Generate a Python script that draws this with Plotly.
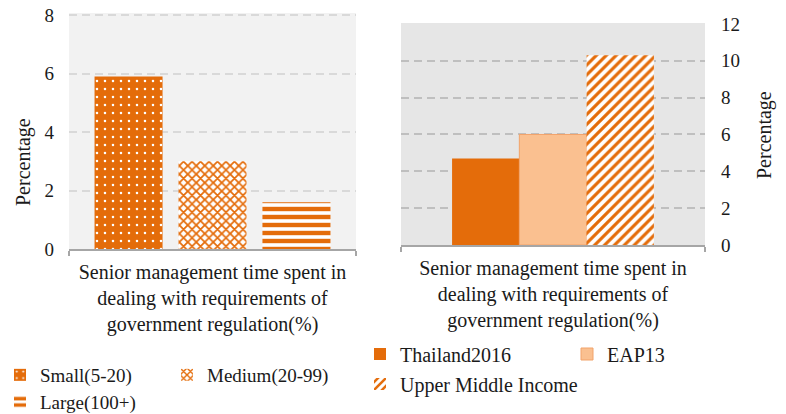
import plotly.graph_objects as go

# ---- data ----
category = ["Senior management time spent in<br>dealing with requirements of<br>government regulation(%)"]

size_names = ["Small(5-20)", "Medium(20-99)", "Large(100+)"]
size_values = [5.9, 3.0, 1.6]

cmp_names = ["Thailand2016", "EAP13", "Upper Middle Income"]
cmp_values = [4.7, 6.0, 10.3]

left_ticks = [0, 2, 4, 6, 8]
right_ticks = [0, 2, 4, 6, 8, 10, 12]

# ---- style ----
W, H = 786, 414
ORANGE = "#E46C0A"
PEACH = "#FAC090"
FONT = "Liberation Serif"
TXT = "#1a1a1a"

def px_x(p):
    return p / W

def px_y(p):
    return 1 - p / H

fig = go.Figure()

# left chart: bars by firm size
left_patterns = [
    dict(shape=".", size=8, solidity=0.08, fgcolor="white", bgcolor=ORANGE, fillmode="replace"),
    dict(shape="x", size=6, solidity=0.5, fgcolor=ORANGE, bgcolor="white", fillmode="replace"),
    dict(shape="-", size=8, solidity=0.55, fgcolor=ORANGE, bgcolor="white", fillmode="replace"),
]
L_group, L_bar = 0.822, 0.237
L_gap = (L_group - 3 * L_bar) / 2
for i, (n, v) in enumerate(zip(size_names, size_values)):
    fig.add_trace(go.Bar(
        x=category, y=[v], name=n, xaxis="x", yaxis="y",
        width=L_bar, offset=-L_group / 2 + i * (L_bar + L_gap),
        marker=dict(color=ORANGE, pattern=left_patterns[i], line=dict(width=0)),
        legend="legend" if i < 2 else "legend2",
    ))

# right chart: comparison
right_markers = [
    dict(color=ORANGE, line=dict(width=0)),
    dict(color=PEACH, line=dict(width=1, color="#F2A36A")),
    dict(color=ORANGE, line=dict(width=0),
         pattern=dict(shape="/", size=7, solidity=0.45, fgcolor=ORANGE, bgcolor="white", fillmode="replace")),
]
R_group, R_bar = 0.664, 0.2213
for i, (n, v) in enumerate(zip(cmp_names, cmp_values)):
    fig.add_trace(go.Bar(
        x=category, y=[v], name=n, xaxis="x2", yaxis="y2",
        width=R_bar, offset=-R_group / 2 + i * R_bar,
        marker=right_markers[i],
        legend="legend3" if i < 2 else "legend4",
    ))

xcommon = dict(type="category", range=[-0.5, 0.5], showgrid=False, showline=True,
               linecolor="#a6a6a6", linewidth=1.5, ticks="outside", tickson="boundaries",
               ticklen=5, tickcolor="#a6a6a6", tickwidth=1.5,
               tickfont=dict(family=FONT, size=20, color=TXT), fixedrange=True)

leg_common = dict(orientation="h", bgcolor="rgba(0,0,0,0)", yanchor="middle", xanchor="left",
                  traceorder="normal", entrywidthmode="pixels")

fig.update_layout(
    width=W, height=H, margin=dict(l=0, r=0, t=0, b=0, autoexpand=False), autosize=False,
    paper_bgcolor="white", barmode="overlay", showlegend=True,
    font=dict(family=FONT, color=TXT),
    xaxis=dict(domain=[px_x(69), px_x(356)], anchor="y", ticklabelstandoff=4, **xcommon),
    xaxis2=dict(domain=[px_x(401), px_x(705)], anchor="y2", ticklabelstandoff=4, **xcommon),
    yaxis=dict(domain=[px_y(249), px_y(13)], anchor="x", range=[0, 8.07], tickvals=left_ticks,
               showgrid=True, gridcolor="#d9d9d9", gridwidth=1.5, griddash="8px,5px",
               zeroline=False, showline=False, ticks="", ticklabelstandoff=14,
               tickfont=dict(family=FONT, size=19, color=TXT), fixedrange=True),
    yaxis2=dict(domain=[px_y(245), px_y(23)], anchor="x2", side="right", range=[0, 12.05],
                tickvals=right_ticks,
                showgrid=True, gridcolor="#bfbfbf", gridwidth=1.5, griddash="8px,5px",
                zeroline=False, showline=False, ticks="", ticklabelstandoff=15,
                tickfont=dict(family=FONT, size=19, color=TXT), fixedrange=True),
    shapes=[
        dict(type="rect", xref="x domain", yref="y domain", x0=0, x1=1, y0=0, y1=1,
             fillcolor="#f2f2f2", line=dict(width=0), layer="below"),
        dict(type="rect", xref="x2 domain", yref="y2 domain", x0=0, x1=1, y0=0, y1=1,
             fillcolor="#e6e6e6", line=dict(width=0), layer="below"),
    ],
    plot_bgcolor="rgba(0,0,0,0)",
    legend=dict(x=px_x(0), y=px_y(375), entrywidth=122, font=dict(family=FONT, size=19, color=TXT), **leg_common),
    legend2=dict(x=px_x(0), y=px_y(402), font=dict(family=FONT, size=19, color=TXT), **leg_common),
    legend3=dict(x=px_x(360), y=px_y(354), entrywidth=162, font=dict(family=FONT, size=20, color=TXT), **leg_common),
    legend4=dict(x=px_x(360), y=px_y(384), font=dict(family=FONT, size=20, color=TXT), **leg_common),
    annotations=[
        dict(text="Percentage", xref="paper", yref="paper", x=px_x(24), y=px_y(162),
             textangle=-90, showarrow=False, font=dict(family=FONT, size=20, color=TXT),
             xanchor="center", yanchor="middle"),
        dict(text="Percentage", xref="paper", yref="paper", x=px_x(764), y=px_y(135),
             textangle=-90, showarrow=False, font=dict(family=FONT, size=20, color=TXT),
             xanchor="center", yanchor="middle"),
    ],
)

fig.write_html("out.html", config={"displayModeBar": False},
               post_script="document.body.style.margin='0';")
